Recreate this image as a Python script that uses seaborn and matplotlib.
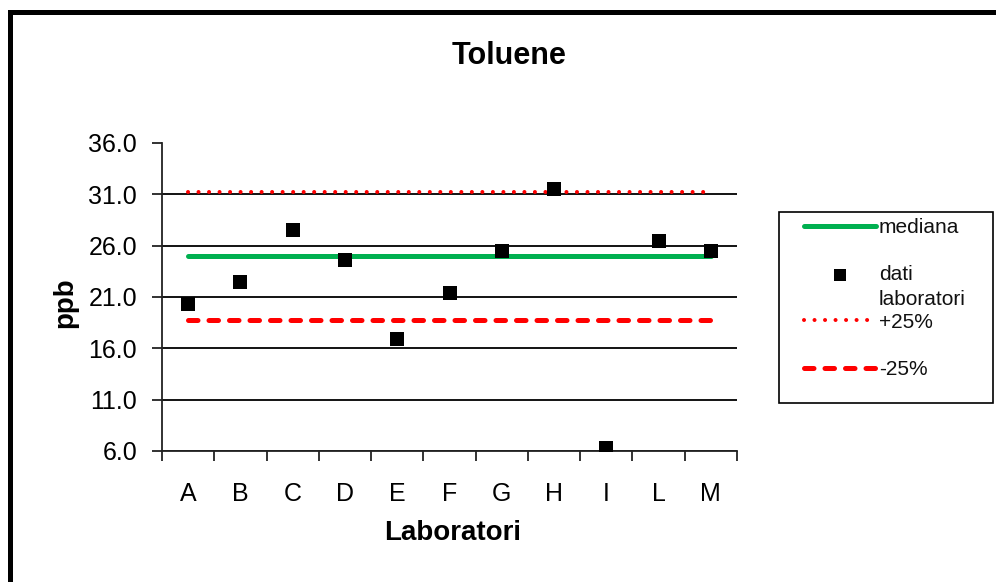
import matplotlib
matplotlib.use('Agg')
import matplotlib.pyplot as plt
import seaborn as sns
import pandas as pd
import numpy as np
from matplotlib.patches import Rectangle

# ---- data ----
laboratori = ['A', 'B', 'C', 'D', 'E', 'F', 'G', 'H', 'I', 'L', 'M']
dati = [20.3, 22.5, 27.5, 24.6, 16.9, 21.4, 25.5, 31.5, 6.3, 26.5, 25.5]
mediana = 25.0
piu25 = 31.25
meno25 = 18.75
yticks = [6.0, 11.0, 16.0, 21.0, 26.0, 31.0, 36.0]

sns.set_theme(style='white')
plt.rcParams['font.family'] = ['Liberation Sans', 'DejaVu Sans']

W, H = 996, 582
fig = plt.figure(figsize=(W / 100, H / 100), dpi=100)
ax = fig.add_axes([162 / W, 1 - 451 / H, (737 - 162) / W, (451 - 143) / H])

df = pd.DataFrame({
    'lab': laboratori,
    'ppb': dati,
    'med': [mediana] * len(laboratori),
    'up': [piu25] * len(laboratori),
    'lo': [meno25] * len(laboratori),
})

green = '#00B050'
red = '#FF0000'
sns.lineplot(data=df, x='lab', y='med', ax=ax, color=green, lw=3.6, sort=False,
             label='mediana', solid_capstyle='round', zorder=3)
sns.lineplot(data=df, x='lab', y='up', ax=ax, color=red, lw=2.9, sort=False,
             label='+25%', zorder=3)
sns.lineplot(data=df, x='lab', y='lo', ax=ax, color=red, lw=3.6, sort=False,
             label='-25%', zorder=3)
sns.scatterplot(data=df, x='lab', y='ppb', ax=ax, marker='s', s=100, color='black',
                edgecolor='black', linewidth=0, label='dati', zorder=5)

lines = ax.get_lines()
lines[1].set_linestyle((0, (0.01, 2.6)))
lines[1].set_dash_capstyle('round')
lines[2].set_linestyle((0, (1.9, 2.2)))
lines[2].set_dash_capstyle('round')

ax.set_xlim(-0.5, len(laboratori) - 0.5)
ax.set_ylim(6, 36)
ax.set_yticks(yticks)
ax.set_yticklabels([f'{v:.1f}' for v in yticks])
ax.set_xticks(range(len(laboratori)))
ax.set_xticklabels(laboratori)
ax.set_xticks(np.arange(-0.5, len(laboratori), 1), minor=True)

ax.yaxis.grid(True, color='black', lw=1.3)
for gl, t in zip(ax.get_ygridlines(), yticks):
    if t == 36.0:
        gl.set_visible(False)
ax.set_axisbelow(True)

for s in ['top', 'right']:
    ax.spines[s].set_visible(False)
for s in ['left', 'bottom']:
    ax.spines[s].set_color('#222222')
    ax.spines[s].set_linewidth(1.3)

ax.tick_params(axis='x', which='major', bottom=True, length=0, pad=22,
               labelsize=18, labelcolor='black')
ax.tick_params(axis='x', which='minor', bottom=True, length=7, width=1.3,
               color='#222222', direction='out')
ax.tick_params(axis='y', which='major', left=True, length=7, width=1.3,
               color='#222222', direction='out', pad=11, labelsize=18,
               labelcolor='black')
ax.set_xlabel('')
ax.set_ylabel('')

# titles / labels
fig.text(509 / W, 1 - 56 / H, 'Toluene', ha='center', va='center',
         fontsize=22, fontweight='bold', color='black')
fig.text(453 / W, 1 - 533 / H, 'Laboratori', ha='center', va='center',
         fontsize=20, fontweight='bold', color='black')
fig.text(65 / W, 1 - 303 / H, 'ppb', ha='center', va='center', rotation=90,
         fontsize=20, fontweight='bold', color='black')

# legend (contents) + separate frame box as in the reference
handles, labels = ax.get_legend_handles_labels()
order = ['mediana', 'dati', '+25%', '-25%']
hmap = dict(zip(labels, handles))
leg = ax.legend([hmap[l] for l in order], order,
                loc='upper left', bbox_to_anchor=(804 / W, 1 - 218 / H),
                bbox_transform=fig.transFigure, fontsize=15, frameon=False,
                handlelength=3.45, handletextpad=0.15, borderpad=0,
                labelspacing=1.36, borderaxespad=0)
for t in leg.get_texts():
    t.set_color('#111111')
leg.legend_handles[1].set_sizes([80])

fig.patches.append(Rectangle((779 / W, 1 - 403 / H), (993 - 779) / W, (403 - 212) / H,
                             transform=fig.transFigure, fill=False,
                             edgecolor='black', lw=1.2))

# wrapped second line of the "dati laboratori" legend label
fig.canvas.draw()
ext = leg.get_texts()[1].get_window_extent()
fig.text(ext.x0 / W, (ext.y0 - 25) / H, 'laboratori', ha='left', va='bottom',
         fontsize=15, color='#111111')

# outer chart frame
fig.patches.append(Rectangle((9.5 / W, -0.2), 1.5, (1 - 11.5 / H) + 0.2,
                             transform=fig.transFigure, fill=False,
                             edgecolor='black', lw=3.6, clip_on=False))

fig.savefig('out.png', dpi=100, facecolor='white')
